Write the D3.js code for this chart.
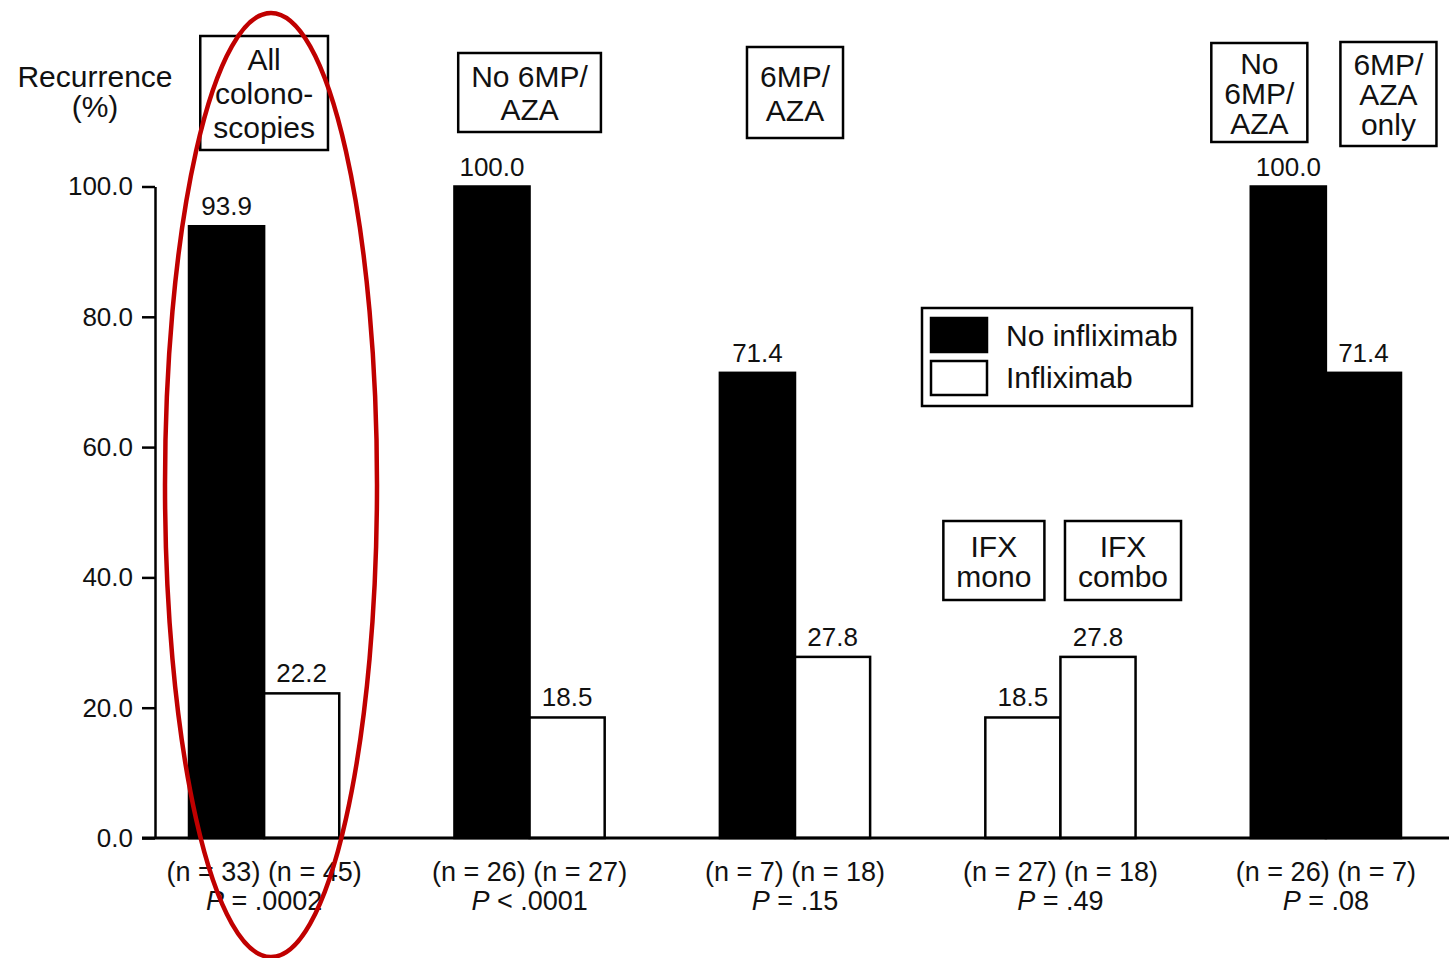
<!DOCTYPE html>
<html><head><meta charset="utf-8">
<script src="https://cdn.jsdelivr.net/npm/d3@7"></script>
<style>body{margin:0;background:#fff}svg{display:block}</style>
</head><body>
<svg id="c" width="1449" height="958"></svg>
<script>
// ---- data ----
const groups = ["All colonoscopies", "No 6MP/AZA", "6MP/AZA", "IFX mono vs combo", "No 6MP/AZA vs 6MP/AZA only"];
const barValues = [[93.9, 22.2], [100.0, 18.5], [71.4, 27.8], [18.5, 27.8], [100.0, 71.4]];
const barSeries = [
  ["No infliximab", "Infliximab"],
  ["No infliximab", "Infliximab"],
  ["No infliximab", "Infliximab"],
  ["Infliximab", "Infliximab"],
  ["No infliximab", "No infliximab"]
];
const nLabels = ["(n = 33) (n = 45)", "(n = 26) (n = 27)", "(n = 7) (n = 18)", "(n = 27) (n = 18)", "(n = 26) (n = 7)"];
const pOps = ["=", "<", "=", "=", "="];
const pValues = [".0002", ".0001", ".15", ".49", ".08"];
const groupBoxLines = [["All", "colono-", "scopies"], ["No 6MP/", "AZA"], ["6MP/", "AZA"], null, null];
const barBoxLines = [null, null, null, [["IFX", "mono"], ["IFX", "combo"]], [["No", "6MP/", "AZA"], ["6MP/", "AZA", "only"]]];
const yTicks = [0, 20, 40, 60, 80, 100];
const legendLabels = ["No infliximab", "Infliximab"];
const yTitle = ["Recurrence", "(%)"];

// ---- setup ----
const FONT = "'Liberation Sans', Arial, sans-serif";
const svg = d3.select("#c");
svg.append("rect").attr("width", 1449).attr("height", 958).attr("fill", "#fff");

const y = d3.scaleLinear().domain([0, 100]).range([838, 186.5]);
const x = d3.scaleBand().domain(groups).range([189, 1401]).paddingInner(0.434).paddingOuter(0);
const xs = d3.scaleBand().domain([0, 1]).range([0, x.bandwidth()]);
const fill = d3.scaleOrdinal().domain(legendLabels).range(["#000", "#fff"]);

// bars
const bars = [];
groups.forEach((g, gi) => barValues[gi].forEach((v, bi) => bars.push({g, gi, bi, v, s: barSeries[gi][bi]})));

svg.append("g").selectAll("rect").data(bars).join("rect")
  .attr("x", d => x(d.g) + xs(d.bi))
  .attr("width", xs.bandwidth())
  .attr("y", d => y(d.v))
  .attr("height", d => y(0) - y(d.v))
  .attr("fill", d => fill(d.s))
  .attr("stroke", "#000").attr("stroke-width", 2.5);

// value labels
svg.append("g").selectAll("text").data(bars).join("text")
  .attr("x", d => x(d.g) + xs(d.bi) + xs.bandwidth() / 2)
  .attr("y", d => y(d.v) - 11)
  .attr("text-anchor", "middle")
  .attr("font-family", FONT).attr("font-size", 26).attr("fill", "#111")
  .text(d => d.v.toFixed(1));

// y axis
const yAxis = svg.append("g").attr("transform", "translate(155,0)")
  .call(d3.axisLeft(y).tickValues(yTicks).tickFormat(d3.format(".1f")).tickSize(13).tickSizeOuter(0).tickPadding(9));
yAxis.select(".domain").attr("stroke-width", 2.5);
yAxis.selectAll(".tick line").attr("stroke-width", 2.5);
yAxis.selectAll(".tick text").attr("font-family", FONT).attr("font-size", 26).attr("fill", "#111");

// x baseline
svg.append("line").attr("x1", 142).attr("x2", 1449).attr("y1", y(0)).attr("y2", y(0))
  .attr("stroke", "#000").attr("stroke-width", 3);

// x labels
const xl = svg.append("g").selectAll("g").data(groups).join("g")
  .attr("transform", d => `translate(${x(d) + x.bandwidth() / 2},0)`)
  .attr("font-family", FONT).attr("font-size", 27).attr("fill", "#111").attr("text-anchor", "middle");
xl.append("text").attr("y", 881).text((d, i) => nLabels[i]);
const pt = xl.append("text").attr("y", 910);
pt.append("tspan").attr("font-style", "italic").text("P");
pt.append("tspan").text((d, i) => ` ${pOps[i]} ${pValues[i]}`);

// label boxes
function drawBox(cx, top, height, lines, lh) {
  const g = svg.append("g");
  const t = g.append("text").attr("font-family", FONT).attr("font-size", 30).attr("fill", "#111").attr("text-anchor", "middle");
  const mid = top + height / 2;
  const first = mid - (lines.length - 1) * lh / 2;
  lines.forEach((l, i) => t.append("tspan").attr("x", cx).attr("y", first + i * lh + 11).text(l));
  const w = Math.max(...t.selectAll("tspan").nodes().map(n => n.getComputedTextLength())) + 26;
  g.insert("rect", "text").attr("x", cx - w / 2).attr("y", top).attr("width", w).attr("height", height)
    .attr("fill", "#fff").attr("stroke", "#000").attr("stroke-width", 2.5);
}
const gBoxTop = [36, 53, 47];
const gBoxH = [114, 79, 91];
const gBoxLH = [34, 33, 34];
groups.forEach((g, gi) => {
  if (groupBoxLines[gi]) drawBox(x(g) + x.bandwidth() / 2, gBoxTop[gi], gBoxH[gi], groupBoxLines[gi], gBoxLH[gi]);
  if (barBoxLines[gi]) {
    barBoxLines[gi].forEach((lines, bi) => {
      const cx = x(g) + xs(bi) + xs.bandwidth() / 2 + (bi === 0 ? -29 : 25);
      if (gi === 3) drawBox(cx, 521, 79, lines, 30);
      else drawBox(cx, bi === 0 ? 43 : 42, bi === 0 ? 99 : 104, lines, 30);
    });
  }
});

// y title
const yt = svg.append("text").attr("font-family", FONT).attr("font-size", 30).attr("fill", "#111").attr("text-anchor", "middle");
yTitle.forEach((l, i) => yt.append("tspan").attr("x", 95).attr("y", 87 + i * 30).text(l));

// legend
const lg = svg.append("g");
lg.append("rect").attr("x", 922).attr("y", 308).attr("width", 270).attr("height", 98)
  .attr("fill", "#fff").attr("stroke", "#000").attr("stroke-width", 2.5);
legendLabels.forEach((l, i) => {
  lg.append("rect").attr("x", 931).attr("y", 318 + i * 43).attr("width", 56).attr("height", 34)
    .attr("fill", fill(l)).attr("stroke", "#000").attr("stroke-width", 2.5);
  lg.append("text").attr("x", 1006).attr("y", 346 + i * 42).attr("font-family", FONT).attr("font-size", 30)
    .attr("fill", "#111").text(l);
});

// red ellipse annotation around first group
svg.append("ellipse").attr("cx", 271).attr("cy", 485)
  .attr("rx", 106).attr("ry", 472).attr("fill", "none").attr("stroke", "#c00000").attr("stroke-width", 4.5);
</script>
</body></html>
